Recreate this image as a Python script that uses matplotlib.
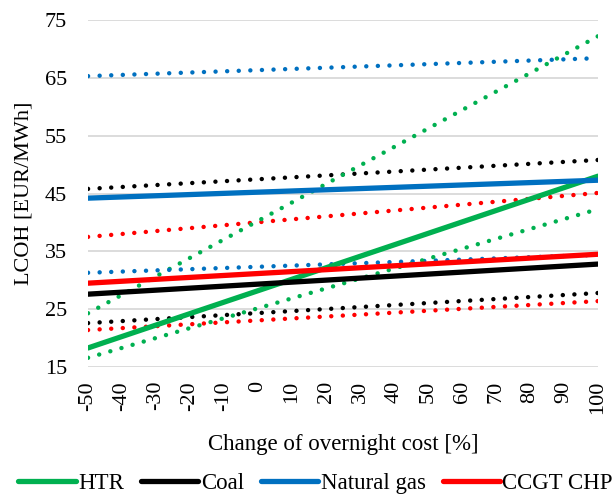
import matplotlib.pyplot as plt
import numpy as np

plt.rcParams['font.family'] = ['Liberation Serif', 'DejaVu Serif']
plt.rcParams['axes.unicode_minus'] = False

# change of overnight cost [%], end points of each straight line
x = [-50, 100]
htr = [18.3, 48.0]
htr_hi = [24.3, 72.2]
htr_lo = [16.6, 42.3]
coal = [27.6, 32.8]
coal_hi = [45.8, 50.8]
coal_lo = [22.6, 27.8]
gas = [44.2, 47.3]
gas_hi = [65.3, 68.4]
gas_lo = [31.3, 34.4]
chp = [29.5, 34.5]
chp_hi = [37.5, 45.1]
chp_lo = [21.4, 26.4]

c_htr = '#00B050'
c_coal = '#000000'
c_gas = '#0070C0'
c_chp = '#FF0000'

fig = plt.figure(figsize=(6.13, 4.96), dpi=100)
ax = fig.add_axes([0.1436, 0.26, 0.832, 0.6997])

dot = (0, (0.01, 2.6))
for y, c in [(gas_hi, c_gas), (coal_hi, c_coal), (chp_hi, c_chp), (htr_hi, c_htr),
             (gas_lo, c_gas), (htr_lo, c_htr), (coal_lo, c_coal), (chp_lo, c_chp)]:
    ax.plot(x, y, color=c, lw=3.2, linestyle=dot, dash_capstyle='round')

ax.plot(x, htr, color=c_htr, lw=3.8, label='HTR', solid_capstyle='round')
ax.plot(x, coal, color=c_coal, lw=3.8, label='Coal', solid_capstyle='round')
ax.plot(x, gas, color=c_gas, lw=3.8, label='Natural gas', solid_capstyle='round')
ax.plot(x, chp, color=c_chp, lw=3.8, label='CCGT CHP', solid_capstyle='round')

ax.set_xlim(-50, 100)
ax.set_ylim(15, 75)
ax.set_xticks(np.arange(-50, 101, 10))
ax.set_yticks(np.arange(15, 76, 10))
ax.tick_params(axis='x', labelrotation=90, length=0, labelsize=16, pad=10)
ax.tick_params(axis='y', length=0, labelsize=16, pad=15)
ax.grid(axis='y', color='#D9D9D9', lw=1.3)
ax.set_axisbelow(True)
for s in ax.spines.values():
    s.set_visible(False)

ax.set_xlabel('Change of overnight cost [%]', fontsize=16.5, labelpad=14)
ax.set_ylabel('LCOH [EUR/MWh]', fontsize=16, labelpad=8)

fig.legend(loc='center', bbox_to_anchor=(0.515, 0.026), ncol=4, frameon=False,
           fontsize=16.5, handlelength=2.5, handletextpad=0.1, columnspacing=0.75)

fig.savefig('out.png', dpi=100)
